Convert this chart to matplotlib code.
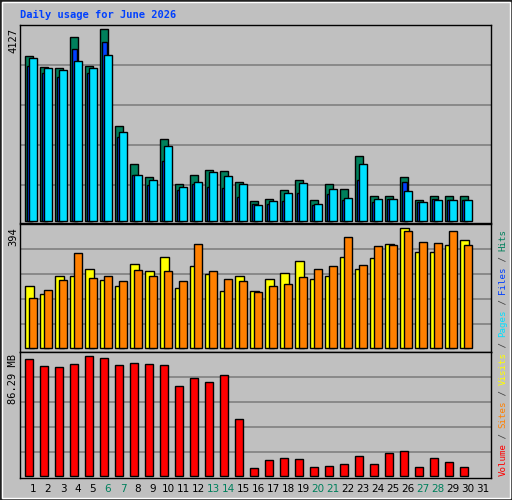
import matplotlib
matplotlib.use("Agg")
import matplotlib.pyplot as plt
from matplotlib.patches import Rectangle
import numpy as np

days = list(range(1, 32))
weekend = [6, 7, 13, 14, 20, 21, 27, 28]
hits = [3545, 3322, 3302, 3954, 3346, 4127, 2042, 1229, 945, 1760, 802, 985, 1086, 1066, 843, 417, 478, 661, 885, 438, 781, 679, 1391, 536, 536, 945, 456, 536, 536, 536]
files = [3346, 3181, 3100, 3713, 3181, 3843, 1800, 985, 762, 1290, 661, 783, 722, 702, 518, 356, 356, 417, 600, 337, 580, 438, 885, 396, 478, 843, 396, 478, 456, 456]
pages = [3504, 3282, 3242, 3445, 3302, 3566, 1902, 985, 885, 1618, 722, 843, 1046, 965, 783, 337, 417, 600, 823, 356, 679, 497, 1229, 478, 478, 640, 396, 456, 456, 438]
visits = [203, 177, 236, 236, 262, 223, 206, 276, 253, 299, 197, 269, 243, 187, 239, 187, 226, 246, 285, 226, 239, 299, 259, 296, 342, 394, 315, 315, 338, 354]
sites = [164, 193, 223, 312, 230, 239, 220, 256, 239, 253, 220, 341, 253, 226, 220, 184, 206, 210, 233, 259, 269, 364, 272, 335, 338, 384, 349, 345, 384, 338]
volume = [84.1, 79.0, 78.3, 80.5, 86.3, 84.8, 79.7, 81.2, 80.5, 79.7, 64.6, 70.3, 67.4, 72.5, 40.8, 5.3, 11.1, 12.5, 11.8, 6.0, 6.8, 8.2, 13.9, 8.2, 16.1, 17.6, 6.0, 12.5, 9.6, 6.0]
max_hits, max_visits, max_volume = 4127, 394, 86.29

W, H = 512, 500
fig = plt.figure(figsize=(W/100, H/100), dpi=100, facecolor="#C0C0C0")
fig.patches.append(Rectangle((0, 0), 1, 1, transform=fig.transFigure, fill=False, ec="#202020", lw=2))
fig.patches.append(Rectangle((2/W, 2/H), 1-4/W, 1-4/H, transform=fig.transFigure, fill=False, ec="white", lw=1))

def mkax(top, bot, base, ymaxpx, vmax, grid_px):
    ax = fig.add_axes([20/W, 1-bot/H, (491-20)/W, (bot-top)/H])
    ax.set_facecolor("#C0C0C0")
    per = vmax / (base - ymaxpx)
    ax.set_ylim(-(bot-base)*per, (base-top)*per)
    ax.set_xlim(20, 491)
    for g in grid_px:
        ax.axhline((base-g)*per, color="#808080", lw=1.2, zorder=0)
    ax.set_xticks([]); ax.set_yticks([])
    for s in ax.spines.values():
        s.set_color("black"); s.set_linewidth(1)
    return ax

x0 = np.array([25.3 + 15*(d-1) for d in days[:30]])

ax1 = mkax(25, 223, 220.7, 29.3, max_hits, [65.3, 105.3, 145.3, 185.3])
kw = dict(align="edge", edgecolor="black", linewidth=1)
ax1.bar(x0, hits, 7.3, color="#00805C", **kw)
ax1.bar(x0+2, files, 5, color="#0040FF", **kw)
ax1.bar(x0+3.7, pages, 7.5, color="#00E0FF", **kw)

ax2 = mkax(224, 352, 348.3, 228.3, max_visits, [249.3, 274.3, 299.3, 324.3])
ax2.bar(x0, visits, 8.2, color="#FFFF00", **kw)
ax2.bar(x0+3.7, sites, 7.5, color="#FF8000", **kw)

ax3 = mkax(352, 478, 475.7, 356.3, max_volume, [377.3, 402.3, 427.3, 452.3])
ax3.bar(x0, volume, 7.3, color="#FF0000", **kw)

def fx(px): return px/W
def fy(py): return 1-py/H

fig.text(fx(20), fy(15), "Daily usage for June 2026", color="#0040FF", family="DejaVu Sans Mono",
         weight="bold", fontsize=7.5, va="center", ha="left")
fig.text(fx(13), fy(28), str(max_hits), rotation=90, fontsize=7.5, family="DejaVu Sans Mono", ha="center", va="top")
fig.text(fx(13), fy(227), str(max_visits), rotation=90, fontsize=7.5, family="DejaVu Sans Mono", ha="center", va="top")
fig.text(fx(13), fy(354), f"{max_volume} MB", rotation=90, fontsize=7.5, family="DejaVu Sans Mono", ha="center", va="top")

for d in days:
    fig.text(fx(33 + 15*(d-1)), fy(489), str(d), fontsize=7.5, ha="center", va="center",
             color="#00805C" if d in weekend else "black")

parts = [("Volume", "#FF0000"), (" / ", "#404040"), ("Sites", "#FF8000"), (" / ", "#404040"),
         ("Visits", "#FFFF00"), (" / ", "#404040"), ("Pages", "#00E0FF"), (" / ", "#404040"),
         ("Files", "#0040FF"), (" / ", "#404040"), ("Hits", "#00805C")]
pos = 0
cw = 5.35
for t, c in parts:
    fig.text(fx(503), fy(476 - pos*cw), t, rotation=90, color=c, family="DejaVu Sans Mono",
             fontsize=6.6, ha="center", va="bottom")
    pos += len(t)

fig.savefig("out.png", dpi=100, facecolor=fig.get_facecolor())
